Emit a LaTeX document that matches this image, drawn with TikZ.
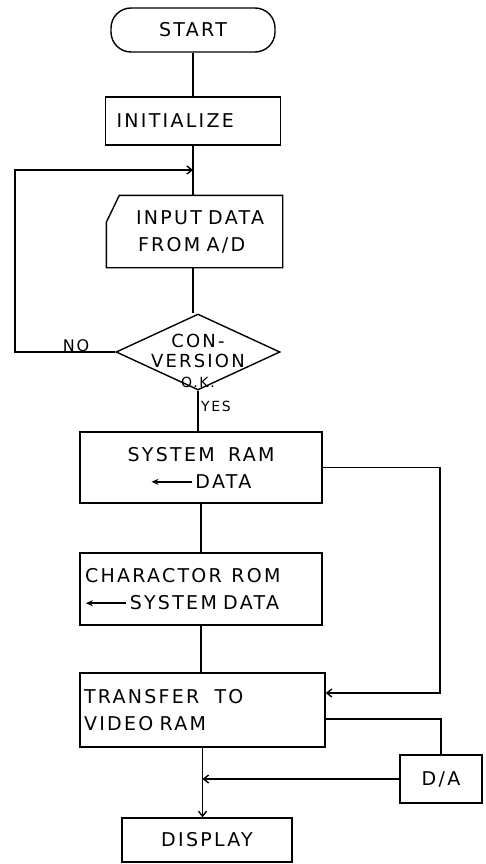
\documentclass[tikz,border=0pt]{standalone}
\usepackage{fontspec}
\newfontfamily\flowfont{DejaVu Sans}[LetterSpace=12,WordSpace=1.8]
\usetikzlibrary{arrows.meta,shapes.geometric}
\newcommand{\lar}{\tikz[baseline=-0.6ex]\draw[line width=1.6pt,{Stealth[length=7pt,width=6pt]}-] (0pt,0pt) -- (40pt,0pt);}

\begin{document}
\begin{tikzpicture}[x=1pt,y=-1pt,line width=1.4pt,
  every node/.style={font=\flowfont\fontsize{19}{27}\selectfont},
  proc/.style={draw,inner sep=0pt},
  flow/.style={-{Straight Barb[length=5pt,width=8pt]}}]
  \useasboundingbox (0,0) rectangle (485,864);

  % boxes
  \node[proc,rounded corners=20pt,minimum width=164pt,minimum height=44pt] (start) at (193,30) {START};
  \node[proc,minimum width=175pt,minimum height=48pt,text width=153pt,align=left] (init) at (193,121) {INITIALIZE};
  \node[minimum width=175pt,minimum height=71pt,text width=151pt,align=left] (inputd) at (194.5,231.5)
    {\hspace*{17pt}INPUT DATA\\\hspace*{19pt}FROM A/D};
  \draw ([xshift=13pt]inputd.north west) -- (inputd.north east) -- (inputd.south east)
    -- (inputd.south west) -- ([yshift=-27pt]inputd.north west) -- cycle;
  \node[draw,diamond,minimum width=164pt,minimum height=76pt,inner sep=0pt] (conv) at (198,352) {};
  \node[align=center,font=\flowfont\fontsize{18}{20}\selectfont] (convtxt) at (198,361)
    {CON-\\VERSION\\{\fontsize{14}{14}\selectfont O.K.}};
  \node[proc,minimum width=242pt,minimum height=71pt,align=center] (sysram) at (201,467.5)
    {SYSTEM\hspace{0.7em}RAM\\\lar\,DATA};
  \node[proc,minimum width=242pt,minimum height=72pt,text width=232pt,align=left] (charrom) at (201,589)
    {CHARACTOR\hspace{0.5em}ROM\\\lar\,SYSTEM DATA};
  \node[proc,minimum width=245pt,minimum height=74pt,text width=237pt,align=left] (transfer) at (202.5,710)
    {TRANSFER\hspace{0.8em}TO\\VIDEO RAM};
  \node[proc,minimum width=82pt,minimum height=48pt] (da) at (441,779) {D/A};
  \node[proc,minimum width=170pt,minimum height=44pt] (display) at (207,840) {DISPLAY};

  % labels
  \node[font=\flowfont\fontsize{16}{16}\selectfont] (no) at (76,346) {NO};
  \node[font=\flowfont\fontsize{14}{14}\selectfont] (yes) at (216,406) {YES};

  % connectors
  \coordinate (join) at (193,170);
  \coordinate (loopc) at (15,170);
  \coordinate (rbus) at (440,0);
  \draw (start.south) -- (init.north);
  \draw (init.south) -- (join) -- (join |- inputd.north);
  \draw (inputd.south -| join) -- (conv.north -| join);
  \draw[flow] (conv.west) -| (loopc) -- (join);
  \draw (conv.south) -- (conv.south |- sysram.north);
  \draw (sysram.south) -- (charrom.north);
  \draw (charrom.south) -- (charrom.south |- transfer.north);
  \draw[flow] (sysram.east) -- (sysram.east -| rbus) |- ([yshift=17pt]transfer.east);
  \draw ([yshift=-9pt]transfer.east) -| (da.north);
  \draw[flow] (transfer.south) -- (transfer.south |- display.north);
  \draw[flow] (da.west) -- (da.west -| transfer.south);
\end{tikzpicture}
\end{document}
